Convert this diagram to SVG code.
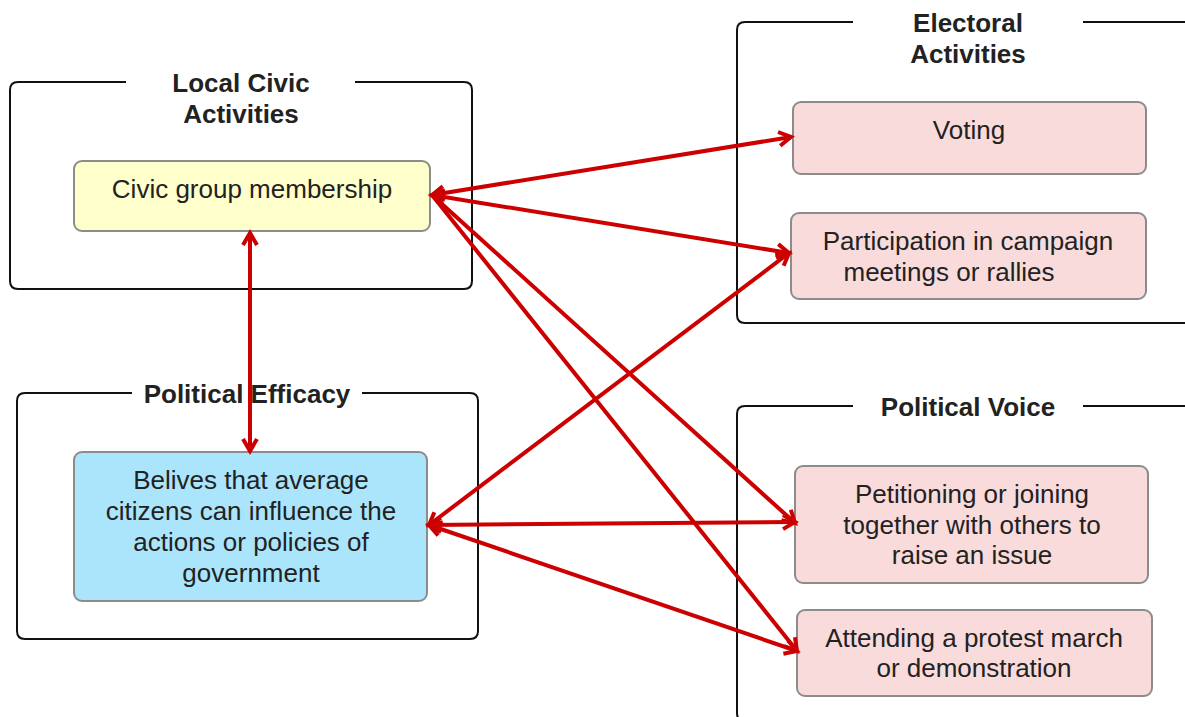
<svg xmlns="http://www.w3.org/2000/svg" width="1185" height="717" viewBox="0 0 1185 717">
<style>
.frame{fill:none;stroke:#111;stroke-width:2}
.title{font-family:"Liberation Sans",Arial,sans-serif;font-weight:bold;font-size:26px;fill:#222;text-anchor:middle}
.box{stroke:#8c8c8c;stroke-width:2}
.lbl{font-family:"Liberation Sans",Arial,sans-serif;font-size:26px;fill:#222;text-anchor:middle}
.yellow{fill:#ffffcc}
.blue{fill:#aae5fc}
.pink{fill:#f9dbdb}
.conn{stroke:#cc0000;stroke-width:4;fill:none;marker-start:url(#ah);marker-end:url(#ah)}
.conn1{stroke:#cc0000;stroke-width:4;fill:none;marker-end:url(#ah)}
</style>
<defs>
<marker id="ah" markerUnits="userSpaceOnUse" viewBox="-16 -10 20 20" refX="0" refY="0" markerWidth="20" markerHeight="20" orient="auto-start-reverse">
<path d="M-12,-7 L0,0 L-12,7" fill="none" stroke="#cc0000" stroke-width="4" stroke-linejoin="miter"/>
</marker>
</defs>
<rect width="1185" height="717" fill="#fff"/>

<g id="local-civic">
<path class="frame" d="M126,82 H18 Q10,82 10,90 V281 Q10,289 18,289 H464 Q472,289 472,281 V90 Q472,82 464,82 H355"/>
<text class="title" x="241" y="92">Local Civic</text>
<text class="title" x="241" y="123">Activities</text>
</g>
<g id="civic-group">
<rect class="box yellow" x="74" y="161" width="356" height="70" rx="8"/>
<text class="lbl" x="252" y="198">Civic group membership</text>
</g>

<g id="political-efficacy">
<path class="frame" d="M132,393 H25 Q17,393 17,401 V631 Q17,639 25,639 H470 Q478,639 478,631 V401 Q478,393 470,393 H362"/>
<text class="title" x="247" y="403">Political Efficacy</text>
</g>
<g id="belief">
<rect class="box blue" x="74" y="452" width="353" height="149" rx="8"/>
<text class="lbl" x="251" y="489">Belives that average</text>
<text class="lbl" x="251" y="520">citizens can influence the</text>
<text class="lbl" x="251" y="551">actions or policies of</text>
<text class="lbl" x="251" y="582">government</text>
</g>

<g id="electoral">
<path class="frame" d="M853,22 H745 Q737,22 737,30 V315 Q737,323 745,323 H1195 M1083,22 H1195"/>
<text class="title" x="968" y="32">Electoral</text>
<text class="title" x="968" y="63">Activities</text>
</g>
<g id="voting">
<rect class="box pink" x="793" y="102" width="353" height="72" rx="8"/>
<text class="lbl" x="969" y="139">Voting</text>
</g>
<g id="campaign">
<rect class="box pink" x="791" y="213" width="355" height="86" rx="8"/>
<text class="lbl" x="968" y="250">Participation in campaign</text>
<text class="lbl" x="949" y="281">meetings or rallies</text>
</g>

<g id="political-voice">
<path class="frame" d="M853,406 H745 Q737,406 737,414 V713 Q737,721 745,721 M1083,406 H1195"/>
<text class="title" x="968" y="416">Political Voice</text>
</g>
<g id="petitioning">
<rect class="box pink" x="795" y="466" width="353" height="117" rx="8"/>
<text class="lbl" x="972" y="503">Petitioning or joining</text>
<text class="lbl" x="972" y="534">together with others to</text>
<text class="lbl" x="972" y="564">raise an issue</text>
</g>
<g id="protest">
<rect class="box pink" x="797" y="610" width="355" height="86" rx="8"/>
<text class="lbl" x="974" y="647">Attending a protest march</text>
<text class="lbl" x="974" y="677">or demonstration</text>
</g>

<g id="connectors">
<line class="conn" x1="432" y1="195" x2="791" y2="137"/>
<line class="conn" x1="432" y1="195" x2="789" y2="253"/>
<line class="conn1" x1="432" y1="195" x2="795" y2="523"/>
<line class="conn1" x1="432" y1="195" x2="797" y2="651"/>
<line class="conn" x1="250" y1="233" x2="250" y2="451"/>
<line class="conn" x1="429" y1="525" x2="789" y2="253"/>
<line class="conn" x1="429" y1="525" x2="795" y2="522"/>
<line class="conn" x1="429" y1="525" x2="797" y2="651"/>
</g>
</svg>
